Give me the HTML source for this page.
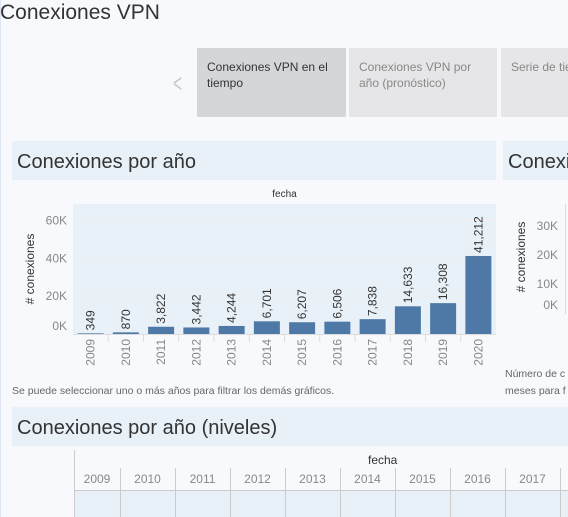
<!DOCTYPE html>
<html><head><meta charset="utf-8">
<style>
body{margin:0;width:568px;height:517px;overflow:hidden;background:#f7f9fc;font-family:"Liberation Sans","DejaVu Sans",sans-serif;position:relative}
.a{position:absolute;white-space:nowrap}
</style></head><body>
<div class="a" style="left:0;top:0;width:1px;height:517px;background:#dce6f2"></div>
<div class="a" style="left:0;top:0;font-size:21px;color:#333;line-height:26px">Conexiones VPN</div>
<div class="a" style="left:170px;top:68px;font-size:26px;color:#c8c8c8;transform:scaleX(0.6)">&lt;</div>
<div class="a" style="left:197px;top:48px;width:149px;height:69px;background:#d5d6da;padding:11px 10px 0 10px;box-sizing:border-box;font-size:12px;line-height:16px;color:#333;white-space:normal">Conexiones VPN en el tiempo</div>
<div class="a" style="left:349px;top:48px;width:148px;height:69px;background:#e6e6e8;padding:11px 20px 0 10px;box-sizing:border-box;font-size:12px;line-height:16px;color:#888;white-space:normal">Conexiones VPN por año (pronóstico)</div>
<div class="a" style="left:501px;top:48px;width:67px;height:69px;background:#e6e6e8;padding-left:10px;padding-top:11px;box-sizing:border-box;font-size:12px;line-height:16px;color:#888;overflow:hidden">Serie de tiempo</div>
<div class="a" style="left:12px;top:141px;width:484px;height:39px;background:#e8f0f8;font-size:20px;line-height:42px;color:#333;padding-left:5px;box-sizing:border-box">Conexiones por año</div>
<div class="a" style="left:503px;top:141px;width:65px;height:39px;background:#e8f0f8;font-size:20px;line-height:42px;color:#333;padding-left:5px;box-sizing:border-box;overflow:hidden">Conexiones</div>
<svg class="a" style="left:0;top:180px;overflow:hidden" width="568" height="230" id="chart"></svg>
<div class="a" style="left:12px;top:385px;font-size:10.5px;color:#666">Se puede seleccionar uno o más años para filtrar los demás gráficos.</div>
<div class="a" style="left:505px;top:366px;width:63px;overflow:hidden;font-size:10.5px;color:#666;line-height:17px">Número de c<br>meses para f</div>
<div class="a" style="left:12px;top:407px;width:556px;height:39px;background:#e8f0f8;font-size:20px;line-height:42px;color:#333;padding-left:5px;box-sizing:border-box">Conexiones por año (niveles)</div>
<div class="a" id="tbl" style="left:0;top:446px;width:568px;height:71px;overflow:hidden"></div>
<script>
const years=["2009","2010","2011","2012","2013","2014","2015","2016","2017","2018","2019","2020"];
const values=[349,870,3822,3442,4244,6701,6207,6506,7838,14633,16308,41212];
const yTicks=[0,20000,40000,60000];
const yTickLabels=["0K","20K","40K","60K"];
const rightTicks=[0,10000,20000,30000];
const rightTickLabels=["0K","10K","20K","30K"];
const ns="http://www.w3.org/2000/svg";
const svg=document.getElementById('chart');
function mk(t,a,p){const e=document.createElementNS(ns,t);for(const k in a)e.setAttribute(k,a[k]);(p||svg).appendChild(e);return e;}
const X0=73,X1=496,T=24,B=154;
const bw=(X1-X0)/years.length;
const y=v=>B-v*(113.6/60000);
const bg=mk('rect',{x:X0,y:T,width:X1-X0,height:B-T,fill:'#e9f1f8'});

const ft=mk('text',{x:(X0+X1)/2,y:17,'font-size':10,fill:'#333','text-anchor':'middle'});ft.textContent='fecha';

yTicks.forEach((v,i)=>{
  if(v>0){const g=mk('line',{x1:X0,x2:X1,y1:y(v),y2:y(v),stroke:'#f0f0f0'});}
  const t=mk('text',{x:67,y:(v===0?B-4:y(v)+4),'font-size':12,fill:'#888','text-anchor':'end'});t.textContent=yTickLabels[i];
  
});
const yt=mk('text',{x:34,y:(T+B)/2,'font-size':12,fill:'#333','text-anchor':'middle',transform:`rotate(-90 34 ${(T+B)/2})`});yt.textContent='# conexiones';

mk('line',{x1:X0,x2:X1,y1:B+0.5,y2:B+0.5,stroke:'#ddd'});
years.forEach((yr,i)=>{
  const cx=X0+bw*(i+0.5);
  const r=mk('rect',{x:cx-13,y:y(values[i]),width:26,height:B-y(values[i]),fill:'#4e79a7'});
  
  const l=mk('text',{x:0,y:0,'font-size':12,fill:'#333',transform:`translate(${cx+4},${y(values[i])-3}) rotate(-90)`});
  l.textContent=values[i].toLocaleString('en-US');
  
  const xl=mk('text',{x:0,y:0,'font-size':12,fill:'#888','text-anchor':'end',transform:`translate(${cx+4},${B+5}) rotate(-90)`});
  xl.textContent=yr;
  if(i>0){mk('line',{x1:X0+bw*i,x2:X0+bw*i,y1:B,y2:B+8,stroke:'#ddd'});}
});
const ry=v=>133-v*(29/10000);
rightTicks.forEach((v,i)=>{
  const t=mk('text',{x:558,y:(v===0?125:ry(v))+4,'font-size':12,fill:'#888','text-anchor':'end'});t.textContent=rightTickLabels[i];
  
});
const rt=mk('text',{x:525,y:77,'font-size':12,fill:'#333','text-anchor':'middle',transform:'rotate(-90 525 77)'});rt.textContent='# conexiones';

mk('line',{x1:565.5,x2:565.5,y1:24,y2:134,stroke:'#ddd'});
const tbl=document.getElementById('tbl');
tbl.innerHTML='<div class="a" style="left:368px;top:7px;font-size:12px;color:#333">fecha</div>'+
'<div class="a" style="left:74px;top:4px;width:1px;height:67px;background:#ccc"></div>'+
'<div class="a" style="left:74px;top:44px;width:494px;height:1px;background:#ccc"></div>'+
'<div class="a" style="left:75px;top:45px;width:493px;height:26px;background:#e9f1f8"></div>';
years.slice(0,9).forEach((yr,i)=>{
  const left=i===0?74:120+55*(i-1);
  const w=i===0?46:55;
  const d=document.createElement('div');d.className='a';
  
  
  d.style.cssText=`left:${left}px;top:26px;width:${w}px;text-align:center;font-size:12px;color:#888`;
  d.textContent=yr;tbl.appendChild(d);
  const ln=document.createElement('div');ln.className='a';
  ln.style.cssText=`left:${left+w}px;top:22px;width:1px;height:49px;background:#ccc`;tbl.appendChild(ln);
});
</script>
</body></html>
